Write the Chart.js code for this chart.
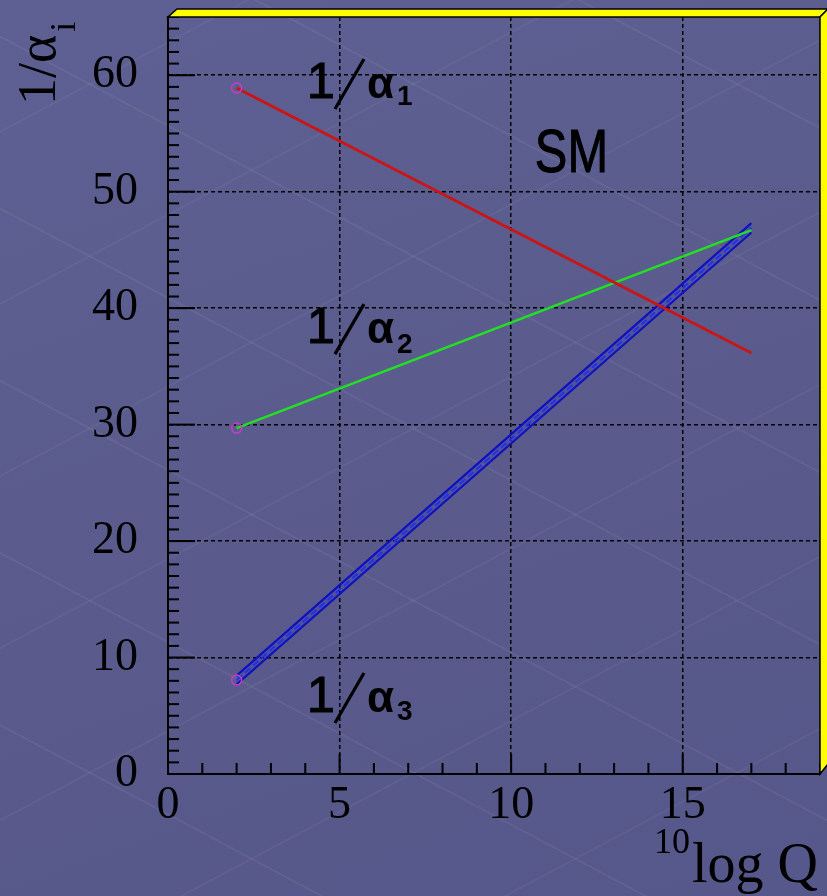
<!DOCTYPE html>
<html>
<head>
<meta charset="utf-8">
<script src="https://cdn.jsdelivr.net/npm/chart.js@4.4.0/dist/chart.umd.min.js"></script>
<style>
    html, body { margin: 0; padding: 0; }
    body {
        width: 827px; height: 896px; overflow: hidden;
        background-color: #5a5b8c;
        background-image:
            repeating-linear-gradient(28deg, rgba(255,255,255,0) 0 150px, rgba(255,255,255,0.05) 150px 152px),
            repeating-linear-gradient(-28deg, rgba(255,255,255,0) 0 150px, rgba(255,255,255,0.04) 150px 152px),
            linear-gradient(160deg, #5e6093 0%, #5a5b8c 55%, #56578a 100%);
    }
    canvas { display: block; }
</style>
</head>
<body>
<canvas id="chart" width="827" height="896"></canvas>
<script>
// ---- データ (log10 Q に対する 1/alpha_i) ----
const logQ = [2, 17];
const invAlpha1 = [58.9, 36.15];
const invAlpha2 = [29.7, 46.7];
const invAlpha3 = [8.07, 46.9];
const invAlpha3Hi = [8.45, 47.3];
const invAlpha3Lo = [7.7, 46.5];

const xTickLabels = [0, 5, 10, 15];
const yTickLabels = [0, 10, 20, 30, 40, 50, 60];
const X_MAX = 19, Y_MAX = 65;

const pts = ys => logQ.map((x, i) => ({ x, y: ys[i] }));

const MARKER = '#c83cc8';

// ---- 軸・枠・ラベル描画プラグイン ----
function line(ctx, x1, y1, x2, y2) {
    ctx.beginPath(); ctx.moveTo(x1, y1); ctx.lineTo(x2, y2); ctx.stroke();
}

function alphaLabel(ctx, x0, base, sub, subDy) {
    ctx.fillStyle = '#000';
    ctx.strokeStyle = '#000';
    ctx.textBaseline = 'alphabetic';
    ctx.textAlign = 'left';
    // "1" は細めだが太い線で
    ctx.font = '50px "Liberation Sans"';
    ctx.lineWidth = 1.2;
    ctx.fillText('1', x0 - 6, base);
    ctx.strokeText('1', x0 - 6, base);
    ctx.lineWidth = 3.2;
    line(ctx, x0 + 22, base + 11, x0 + 51, base - 39);
    ctx.font = 'bold 44px "Liberation Sans"';
    ctx.fillText('α', x0 + 54, base);
    ctx.font = 'bold 28px "Liberation Sans"';
    ctx.fillText(sub, x0 + 84, base + subDy);
}

const decor = {
    id: 'decor',
    afterDraw(chart) {
        const { ctx, chartArea: a, scales: { x, y } } = chart;
        ctx.save();

        // 内向きの目盛り
        ctx.strokeStyle = '#000';
        ctx.lineWidth = 2;
        y.ticks.forEach(t => {
            const py = y.getPixelForValue(t.value);
            const len = t.value % 10 === 0 ? 27 : 11;
            line(ctx, a.left, py, a.left + len, py);
        });
        x.ticks.forEach(t => {
            const px = x.getPixelForValue(t.value);
            const len = t.value % 5 === 0 ? 20 : 11;
            line(ctx, px, a.bottom, px, a.bottom - len);
        });

        // 黄色の3D枠
        const d = 8;
        ctx.fillStyle = '#ffff00';
        ctx.strokeStyle = '#000';
        ctx.lineWidth = 1.5;
        ctx.beginPath();
        ctx.moveTo(a.left, a.top);
        ctx.lineTo(a.right, a.top);
        ctx.lineTo(a.right + d, a.top - d);
        ctx.lineTo(a.left + d + 1, a.top - d);
        ctx.closePath();
        ctx.fill(); ctx.stroke();
        ctx.beginPath();
        ctx.moveTo(a.right, a.top);
        ctx.lineTo(a.right + d, a.top - d);
        ctx.lineTo(a.right + d, a.bottom - d - 2);
        ctx.lineTo(a.right, a.bottom);
        ctx.closePath();
        ctx.fill(); ctx.stroke();

        // 曲線ラベル
        const lx = x.getPixelForValue(4.225);
        alphaLabel(ctx, lx, y.getPixelForValue(58.05), '1', 7);
        alphaLabel(ctx, lx, y.getPixelForValue(37.0), '2', 10);
        alphaLabel(ctx, lx, y.getPixelForValue(5.32), '3', 8);

        // SM
        ctx.save();
        ctx.translate(x.getPixelForValue(10.69), y.getPixelForValue(51.7));
        ctx.scale(0.8, 1);
        ctx.fillStyle = '#000';
        ctx.strokeStyle = '#000';
        ctx.lineWidth = 1;
        ctx.font = '61px "Liberation Sans"';
        ctx.fillText('SM', 0, 0);
        ctx.strokeText('SM', 0, 0);
        ctx.restore();

        // Y軸タイトル 1/α_i
        ctx.save();
        ctx.translate(a.left - 113, 105);
        ctx.rotate(-Math.PI / 2);
        ctx.fillStyle = '#000';
        ctx.font = '54px "Liberation Serif"';
        ctx.fillText('1/α', 0, 0);
        const tx = ctx.measureText('1/α').width;
        ctx.font = '36px "Liberation Serif"';
        ctx.fillText('i', tx + 3, 20);
        ctx.restore();

        // X軸タイトル 10log Q
        ctx.fillStyle = '#000';
        ctx.font = '36px "Liberation Serif"';
        ctx.fillText('10', 654, 853);
        ctx.font = '56px "Liberation Serif"';
        ctx.fillText('log Q', 692, 882);

        ctx.restore();
    }
};

const gridColor = (ok) => ok ? '#000' : 'rgba(0,0,0,0)';

new Chart(document.getElementById('chart'), {
    type: 'scatter',
    data: {
        datasets: [
            {
                label: '1/α1',
                data: pts(invAlpha1),
                showLine: true,
                borderColor: '#cc1414',
                borderWidth: 2.8,
                pointRadius: [5, 0],
                pointBorderColor: MARKER,
                pointBackgroundColor: 'rgba(0,0,0,0)',
                pointBorderWidth: 1.5
            },
            {
                label: '1/α2',
                data: pts(invAlpha2),
                showLine: true,
                borderColor: '#22e022',
                borderWidth: 2.5,
                pointRadius: [5, 0],
                pointBorderColor: MARKER,
                pointBackgroundColor: 'rgba(0,0,0,0)',
                pointBorderWidth: 1.5
            },
            {
                label: '1/α3',
                data: pts(invAlpha3),
                showLine: true,
                borderColor: '#2030f0',
                borderWidth: 2,
                borderDash: [7, 4],
                pointRadius: [5, 0],
                pointBorderColor: MARKER,
                pointBackgroundColor: 'rgba(0,0,0,0)',
                pointBorderWidth: 1.5
            },
            {
                label: '1/α3 upper',
                data: pts(invAlpha3Hi),
                showLine: true,
                borderColor: '#1010c0',
                borderWidth: 2.2,
                pointRadius: 0,
                fill: '+1',
                backgroundColor: 'rgba(40,50,190,0.18)'
            },
            {
                label: '1/α3 lower',
                data: pts(invAlpha3Lo),
                showLine: true,
                borderColor: '#1010c0',
                borderWidth: 2.2,
                pointRadius: 0
            }
        ]
    },
    options: {
        responsive: false,
        devicePixelRatio: 1,
        animation: false,
        layout: { padding: { top: 17, right: 7, left: 0, bottom: 0 } },
        plugins: { legend: { display: false }, tooltip: { enabled: false } },
        scales: {
            x: {
                type: 'linear',
                min: 0, max: X_MAX,
                afterFit: s => { s.height = 122; s.paddingLeft = 0; s.paddingRight = 0; },
                ticks: {
                    stepSize: 1,
                    autoSkip: false,
                    maxRotation: 0,
                    padding: 4,
                    color: '#000',
                    font: { family: '"Liberation Serif"', size: 46 },
                    callback: v => xTickLabels.includes(v) ? String(v) : ''
                },
                grid: {
                    drawTicks: false,
                    lineWidth: 1.5,
                    color: c => gridColor(c.tick && c.tick.value % 5 === 0 && c.tick.value > 0 && c.tick.value < X_MAX)
                },
                border: { display: true, color: '#000', width: 2, dash: [4, 3] }
            },
            y: {
                type: 'linear',
                min: 0, max: Y_MAX,
                afterFit: s => { s.width = 168; s.paddingTop = 0; s.paddingBottom = 0; },
                ticks: {
                    stepSize: 1,
                    autoSkip: false,
                    padding: 30,
                    color: '#000',
                    font: { family: '"Liberation Serif"', size: 46 },
                    callback: v => yTickLabels.includes(v) ? String(v) : ''
                },
                grid: {
                    drawTicks: false,
                    lineWidth: 1.5,
                    color: c => gridColor(c.tick && c.tick.value % 10 === 0 && c.tick.value > 0 && c.tick.value < Y_MAX)
                },
                border: { display: true, color: '#000', width: 2, dash: [4, 3] }
            }
        }
    },
    plugins: [decor]
});
</script>
</body>
</html>
